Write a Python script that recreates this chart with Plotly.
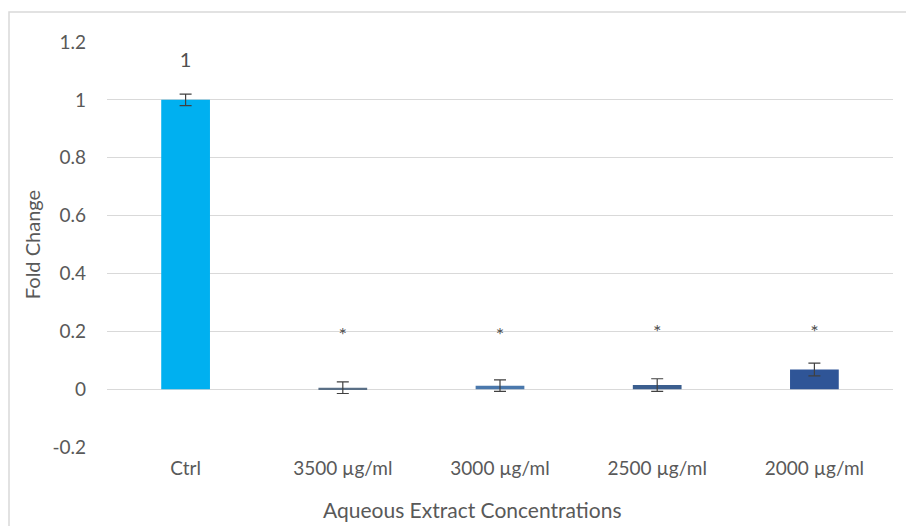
import plotly.graph_objects as go

categories = ["Ctrl", "3500 µg/ml", "3000 µg/ml", "2500 µg/ml", "2000 µg/ml"]
fold_change = [1.0, 0.005, 0.012, 0.014, 0.068]
error = [0.02, 0.02, 0.02, 0.022, 0.022]
bar_colors = ["#00B0F0", "#5A6F86", "#4A78AC", "#3B5E8E", "#2F5597"]
labels = ["1", "*", "*", "*", "*"]
label_y = [1.13, 0.18, 0.18, 0.19, 0.19]
y_ticks = [-0.2, 0, 0.2, 0.4, 0.6, 0.8, 1, 1.2]
y_tick_text = ["-0.2", "0", "0.2", "0.4", "0.6", "0.8", "1", "1.2"]
x_title = "Aqueous Extract Concentrations"

font_family = "Lato, 'Open Sans', sans-serif"

fig = go.Figure()
fig.add_trace(go.Bar(
    x=categories, y=fold_change,
    marker=dict(color=bar_colors, line=dict(width=0)),
    width=0.31,
    error_y=dict(type="data", array=error, visible=True, color="#404040", thickness=1.2, width=6),
    showlegend=False, hoverinfo="x+y",
))
fig.add_trace(go.Scatter(
    x=categories, y=label_y, mode="text", text=labels,
    textfont=dict(family=font_family, size=20, color="#505050"),
    showlegend=False, hoverinfo="skip",
))

fig.update_layout(
    width=906, height=518,
    margin=dict(l=99, r=21, t=34, b=79),
    paper_bgcolor="white", plot_bgcolor="white",
    font=dict(family=font_family, size=19, color="#595959"),
    xaxis=dict(
        showgrid=False, showline=False, ticks="", ticklabelstandoff=8,
        tickfont=dict(size=19, color="#595959"), automargin=False,
    ),
    yaxis=dict(
        title=dict(text="Fold Change", font=dict(size=20, color="#595959"), standoff=6),
        range=[-0.2, 1.2], tickvals=y_ticks, ticktext=y_tick_text,
        showgrid=True, gridcolor="#D9D9D9", gridwidth=1,
        zeroline=False, showline=False, ticks="", ticklabelstandoff=20,
        tickfont=dict(size=19, color="#595959"),
    ),
    annotations=[dict(
        text=x_title, xref="paper", yref="paper", x=0.465, y=-63 / 405,
        xanchor="center", yanchor="middle", showarrow=False,
        font=dict(size=21, color="#595959"),
    )],
    shapes=[dict(
        type="rect", xref="paper", yref="paper",
        x0=(1 - 99) / 786, x1=1.2, y0=-0.5, y1=1 + 30 / 405,
        line=dict(color="#D9D9D9", width=1.5), fillcolor="rgba(0,0,0,0)", layer="below",
    )],
)

fig.write_html("out.html")
